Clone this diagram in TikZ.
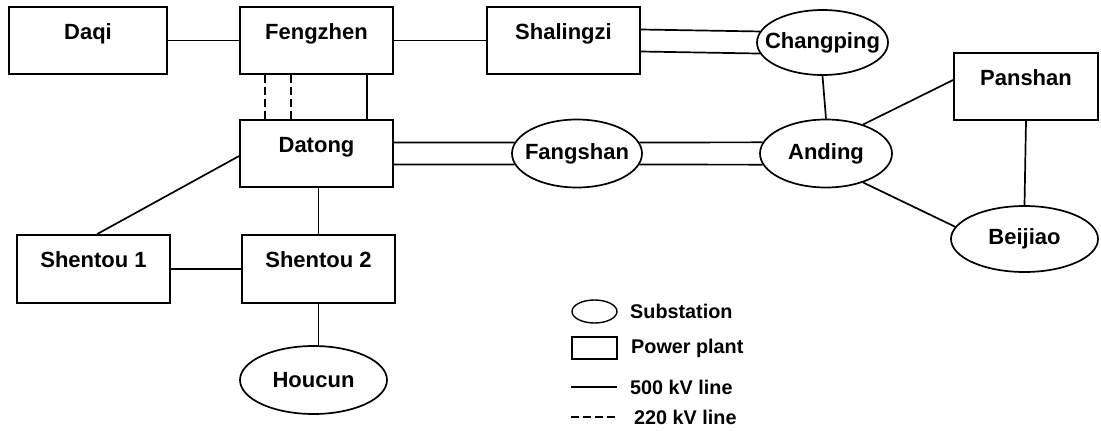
\documentclass[tikz,border=0pt]{standalone}
\usepackage{fontspec}
\setmainfont{Liberation Sans}
\usepackage{tikz}
\usetikzlibrary{shapes.geometric, positioning}
\tikzset{
  plant/.style={draw, rectangle, line width=1.7pt, minimum width=153pt, minimum height=67pt,
    text height=12pt, text depth=15pt, font=\fontsize{22}{26}\selectfont\bfseries},
  substation/.style={draw, ellipse, line width=1.7pt, inner xsep=-12pt, inner ysep=-6pt,
    font=\fontsize{22}{26}\selectfont\bfseries},
  legtext/.style={anchor=west, inner sep=0pt, font=\fontsize{19.8}{24}\selectfont\bfseries},
  line500/.style={line width=1.7pt},
  line220/.style={line width=1.7pt, dash pattern=on 8pt off 4pt}
}

\begin{document}
\begin{tikzpicture}[x=1pt, y=-1pt]
        \useasboundingbox (0,0) rectangle (1101,431);
        % Power plants
        \node[plant, minimum width=158pt] (daqi) at (88,40.5) {Daqi};
        \node[plant] (fengzhen) at (316.5,40.5) {Fengzhen};
        \node[plant] (shalingzi) at (563.5,40.5) {Shalingzi};
        \node[plant] (datong) at (316.5,153.5) {Datong};
        \node[plant, minimum width=144pt] (panshan) at (1026,86.5) {Panshan};
        \node[plant, minimum height=68pt] (shentou1) at (93.5,269) {Shentou 1};
        \node[plant, minimum height=68pt] (shentou2) at (318.5,269) {Shentou 2};
        % Substations
        \node[substation, minimum width=131pt, minimum height=65pt] (changping) at (822.5,42.5) {Changping};
        \node[substation, minimum width=130pt, minimum height=68pt] (fangshan) at (577,153.5) {Fangshan};
        \node[substation, minimum width=132pt, minimum height=68pt] (anding) at (826,153.5) {Anding};
        \node[substation, minimum width=147pt, minimum height=66pt] (beijiao) at (1024.5,239) {Beijiao};
        \node[substation, minimum width=147pt, minimum height=68pt] (houcun) at (313.5,380) {Houcun};
        % 500 kV lines
        \draw[line500] (daqi.east) -- (fengzhen.west);
        \draw[line500] (fengzhen.east) -- (shalingzi.west);
        \draw[line500] ([yshift=11pt]shalingzi.east) -- (changping.170);
        \draw[line500] ([yshift=-11pt]shalingzi.east) -- (changping.190);
        \draw[line500] ([xshift=50.5pt]fengzhen.south) -- ([xshift=50.5pt]datong.north);
        \draw[line500] ([yshift=11pt]datong.east) -- (fangshan.170);
        \draw[line500] ([yshift=-11pt]datong.east) -- (fangshan.190);
        \draw[line500] (fangshan.10) -- (anding.170);
        \draw[line500] (fangshan.-10) -- (anding.190);
        \draw[line500] (changping.south) -- (anding.north);
        \draw[line500] (anding.38) -- ([yshift=6.5pt]panshan.west);
        \draw[line500] (anding.-38) -- (beijiao.170);
        \draw[line500] (panshan.south) -- (beijiao.north);
        \draw[line500] ([yshift=-2.5pt]datong.west) -- ([xshift=3.5pt]shentou1.north);
        \draw[line500] (shentou2.north |- datong.south) -- (shentou2.north);
        \draw[line500] (shentou1.east) -- (shentou2.west);
        \draw[line500] (shentou2.south) -- (shentou2.south |- houcun.north);
        % 220 kV lines
        \draw[line220] ([xshift=-51.5pt]fengzhen.south) -- ([xshift=-51.5pt]datong.north);
        \draw[line220] ([xshift=-25.5pt]fengzhen.south) -- ([xshift=-25.5pt]datong.north);
        % Legend
        \node[draw, ellipse, line width=1.4pt, minimum width=45pt, minimum height=23pt] (legsub) at (594.5,311.5) {};
        \node[legtext] (legsubtext) at (630,311.5) {Substation};
        \node[draw, rectangle, line width=1.4pt, minimum width=45pt, minimum height=22pt] (legplant) at (594.5,348) {};
        \node[legtext] (legplanttext) at (631,348) {Power plant};
        \coordinate (leg500a) at (571,387);
        \coordinate (leg500b) at (617,387);
        \draw[line500] (leg500a) -- (leg500b);
        \node[legtext] (leg500text) at (630,387) {500 kV line};
        \coordinate (leg220a) at (571,417);
        \coordinate (leg220b) at (617,417);
        \draw[line220] (leg220a) -- (leg220b);
        \node[legtext] (leg220text) at (634,417) {220 kV line};
\end{tikzpicture}
\end{document}
